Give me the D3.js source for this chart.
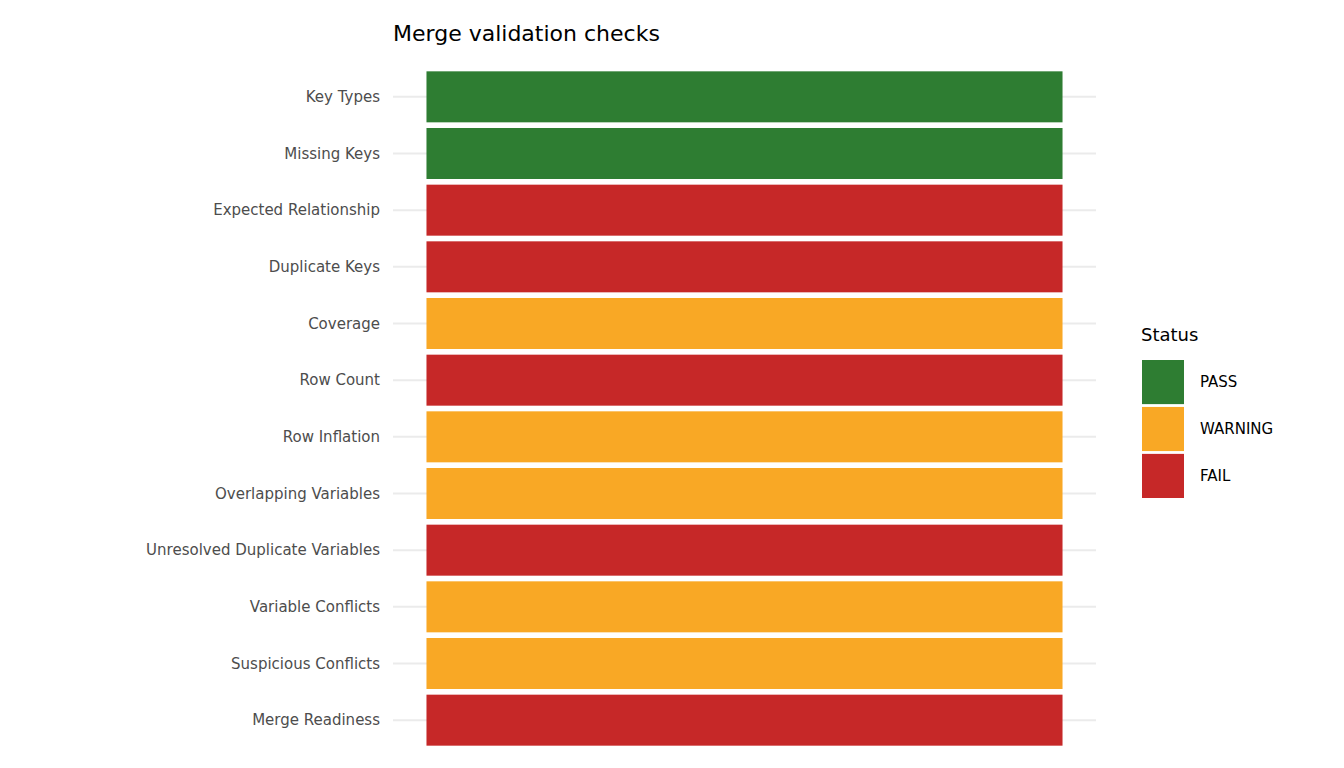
<!DOCTYPE html>
<html><head><meta charset="utf-8">
<script src="https://cdn.jsdelivr.net/npm/d3@7"></script>
<style>body{margin:0;background:#fff}</style>
</head><body><svg id="chart"></svg>
<script>
const checks = ["Key Types","Missing Keys","Expected Relationship","Duplicate Keys","Coverage","Row Count","Row Inflation","Overlapping Variables","Unresolved Duplicate Variables","Variable Conflicts","Suspicious Conflicts","Merge Readiness"];
const statuses = ["PASS","PASS","FAIL","FAIL","WARNING","FAIL","WARNING","WARNING","FAIL","WARNING","WARNING","FAIL"];
const statusLevels = ["PASS","WARNING","FAIL"];
const statusColors = ["#2e7d32","#f9a825","#c62828"];

const W = 1344, H = 768;
const svg = d3.select("#chart").attr("width", W).attr("height", H).style("font-family","DejaVu Sans");
const panel = {left: 393, right: 1096, top: 68.5, bottom: 748.5};

const y = d3.scaleBand().domain(checks).range([panel.top, panel.bottom]).paddingInner(0.1).paddingOuter(0.05);
const x = d3.scaleBand().domain(["check"]).range([panel.left, panel.right]).padding(0.05);
const color = d3.scaleOrdinal().domain(statusLevels).range(statusColors);
const data = checks.map((c, i) => ({check: c, status: statuses[i]}));

// grid lines
svg.selectAll("line.grid").data(checks).enter().append("line")
  .attr("x1", panel.left).attr("x2", panel.right)
  .attr("y1", d => y(d) + y.bandwidth()/2).attr("y2", d => y(d) + y.bandwidth()/2)
  .style("stroke", "#ebebeb").style("stroke-width", 2);

svg.selectAll("rect.tile").data(data).enter().append("rect")
  .attr("x", x("check")).attr("width", x.bandwidth())
  .attr("y", d => y(d.check)).attr("height", y.bandwidth())
  .attr("fill", d => color(d.status));

svg.selectAll("text.ylab").data(checks).enter().append("text")
  .attr("x", 380).attr("y", d => y(d) + y.bandwidth()/2).attr("dy", "0.35em")
  .attr("text-anchor", "end").style("font-size", "15px").style("fill", "#4d4d4d")
  .text(d => d);

svg.append("text").attr("x", 393).attr("y", 41).style("font-size", "22px").text("Merge validation checks");

// legend
const lg = svg.append("g").attr("transform", "translate(1142,0)");
lg.append("text").attr("x", -1).attr("y", 341).style("font-size", "18px").text("Status");
const ly = d3.scaleBand().domain(statusLevels).range([360, 498]).paddingInner(0.06);
lg.selectAll("rect").data(statusLevels).enter().append("rect")
  .attr("x", 0).attr("y", d => ly(d)).attr("width", 42).attr("height", ly.bandwidth())
  .attr("fill", d => color(d));
lg.selectAll("text.lab").data(statusLevels).enter().append("text")
  .attr("x", 58).attr("y", d => ly(d) + ly.bandwidth()/2).attr("dy", "0.35em")
  .style("font-size", "15px").text(d => d);
</script></body></html>
